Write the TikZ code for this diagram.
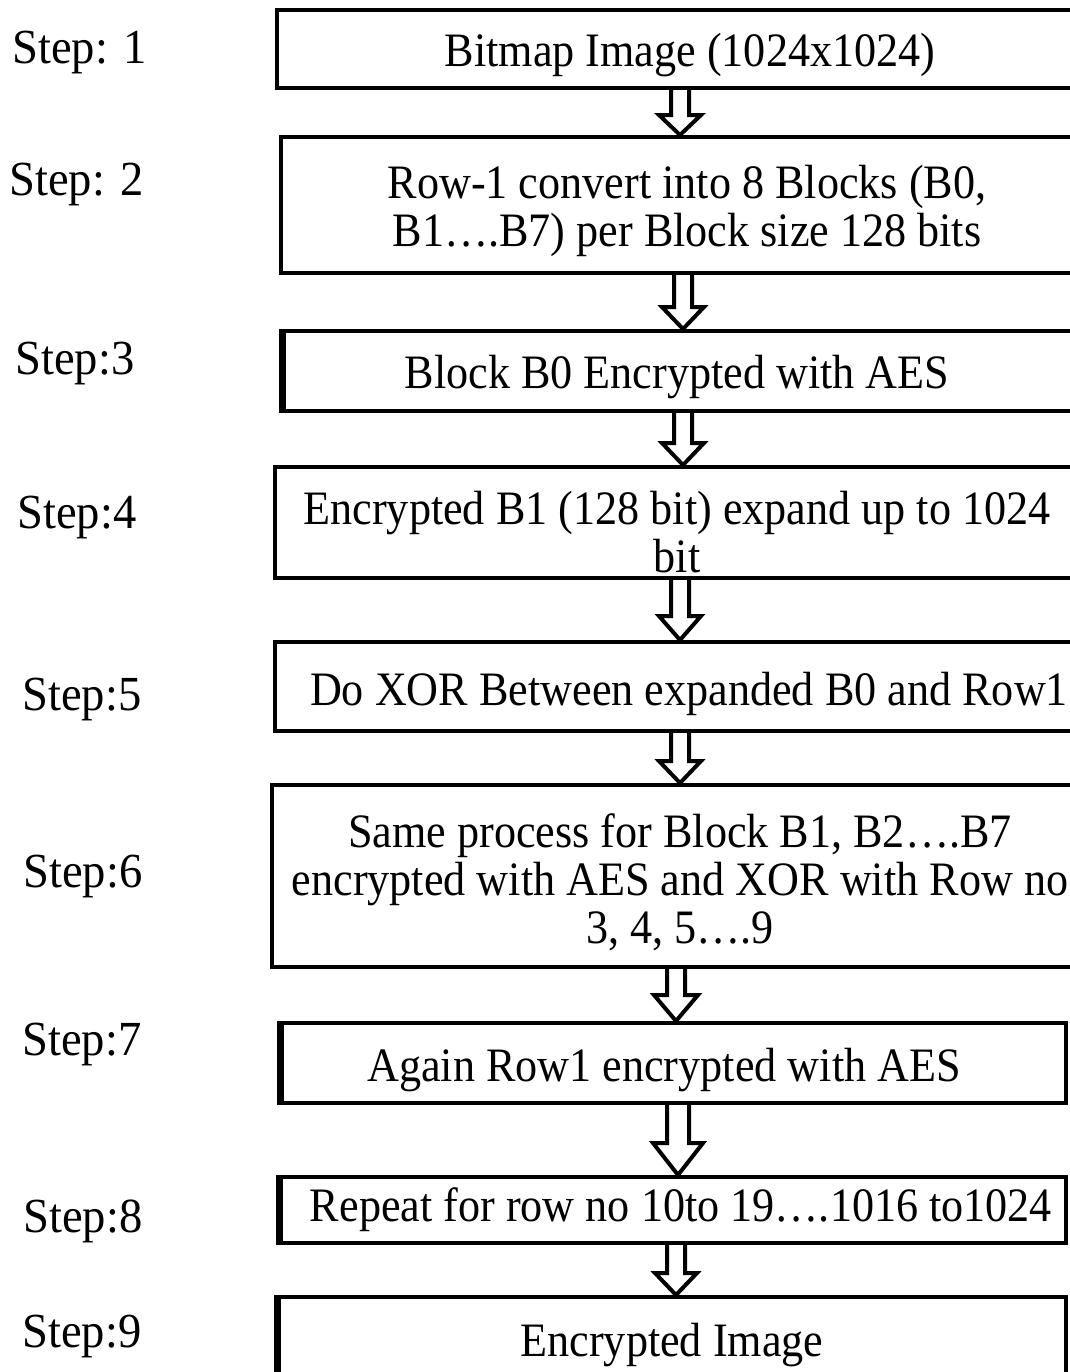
\documentclass[tikz,border=0pt]{standalone}
\usepackage{fontspec}
\setmainfont{Liberation Serif}
% slightly narrow cuts of the serif face for the labels and box texts
\newfontfamily\boxfont[FakeStretch=0.92]{Liberation Serif}
\newfontfamily\labelfont[FakeStretch=0.95]{Liberation Serif}
\usetikzlibrary{calc}

% one unit = one pixel of a 1070 x 1372 sheet, y growing downwards
\tikzset{
  x=0.5pt, y=-0.5pt,
  stepbox/.style={draw, line width=2pt, rectangle, inner sep=0pt},
  boxtext/.style={inner sep=0pt, align=center,
    font=\boxfont\fontsize{24}{24}\selectfont},
  steplabel/.style={anchor=base west, inner sep=0pt,
    font=\labelfont\fontsize{24.5}{27}\selectfont},
  blockarrow/.style={draw, line width=2pt, line join=miter},
  thickside/.style={line width=3.5pt}
}

% hollow block arrow from the bottom of #1 to the top of #2 at x = #3;
% #4 head length, #5 head half width, #6 shaft half width
\newcommand\hollowarrow[6]{%
  \coordinate (ax) at (#3,0);
  \draw[blockarrow]
    ($(#1.south -| ax)+(-#6,0)$) -- ($(#2.north -| ax)+(-#6,-#4)$)
    -- ($(#2.north -| ax)+(-#5,-#4)$) -- (#2.north -| ax)
    -- ($(#2.north -| ax)+(#5,-#4)$) -- ($(#2.north -| ax)+(#6,-#4)$)
    -- ($(#1.south -| ax)+(#6,0)$);
}

\begin{document}
\begin{tikzpicture}
\useasboundingbox (0,0) rectangle (1070,1372);
\clip (0,0) rectangle (1070,1372);

% step labels
\node[steplabel] (s1) at (12,63)   {Step: 1};
\node[steplabel] (s2) at (9,195)   {Step: 2};
\node[steplabel] (s3) at (15,374)  {Step:3};
\node[steplabel] (s4) at (17,528)  {Step:4};
\node[steplabel] (s5) at (22,710)  {Step:5};
\node[steplabel] (s6) at (23,887)  {Step:6};
\node[steplabel] (s7) at (22,1055) {Step:7};
\node[steplabel] (s8) at (23,1232) {Step:8};
\node[steplabel] (s9) at (22,1347) {Step:9};

% process boxes (the upper six run past the right edge of the sheet)
\node[stepbox, minimum width=406.5pt, minimum height=39pt]   (b1) at (683.5,49)   {};
\node[stepbox, minimum width=404.5pt, minimum height=68pt]   (b2) at (685.5,205)  {};
\node[stepbox, minimum width=404.5pt, minimum height=40pt]   (b3) at (685.5,371)  {};
\node[stepbox, minimum width=407.5pt, minimum height=55.5pt] (b4) at (682.5,522.5) {};
\node[stepbox, minimum width=407.5pt, minimum height=44.5pt] (b5) at (682.5,686.5) {};
\node[stepbox, minimum width=409pt,   minimum height=91pt]   (b6) at (681,876)    {};
\node[stepbox, minimum width=393.5pt, minimum height=40pt]   (b7) at (672.5,1063) {};
\node[stepbox, minimum width=394pt,   minimum height=33pt]   (b8) at (672,1210)   {};
\node[stepbox, minimum width=395pt,   minimum height=43pt]   (b9) at (671,1340)   {};

% heavier left edges
\foreach \b in {b3,b7,b8,b9}
  \draw[thickside] ($(\b.north west)+(3,0)$) -- ($(\b.south west)+(3,0)$);

% box texts
\node[boxtext] (t1) at (690,55)   {Bitmap Image (1024x1024)};
\node[boxtext] (t2) at (687,211)  {Row-1 convert into 8 Blocks (B0,\\B1….B7) per Block size 128 bits};
\node[boxtext] (t3) at (677,377)  {Block B0 Encrypted with AES};
\node[boxtext] (t4) at (677,532)  {Encrypted B1 (128 bit) expand up to 1024\\bit};
\node[boxtext] (t5) at (689,694)  {Do XOR Between expanded B0 and Row1};
\node[boxtext] (t6) at (680,882)  {Same process for Block B1, B2….B7\\encrypted with AES and XOR with Row no\\3, 4, 5….9};
\node[boxtext] (t7) at (664,1070) {Again Row1 encrypted with AES};
\node[boxtext] (t8) at (681,1210) {Repeat for row no 10to 19….1016 to1024};
\node[boxtext] (t9) at (672,1345) {Encrypted Image};

% connectors
\hollowarrow{b1}{b2}{680}{20}{21}{9}
\hollowarrow{b2}{b3}{683}{22}{21}{9}
\hollowarrow{b3}{b4}{683}{22}{21}{9}
\hollowarrow{b4}{b5}{680}{24}{21}{9}
\hollowarrow{b5}{b6}{680}{22}{21}{9}
\hollowarrow{b6}{b7}{676}{26}{22}{9}
\hollowarrow{b7}{b8}{678}{32}{25}{11}
\hollowarrow{b8}{b9}{676}{22}{21}{9}
\end{tikzpicture}
\end{document}
